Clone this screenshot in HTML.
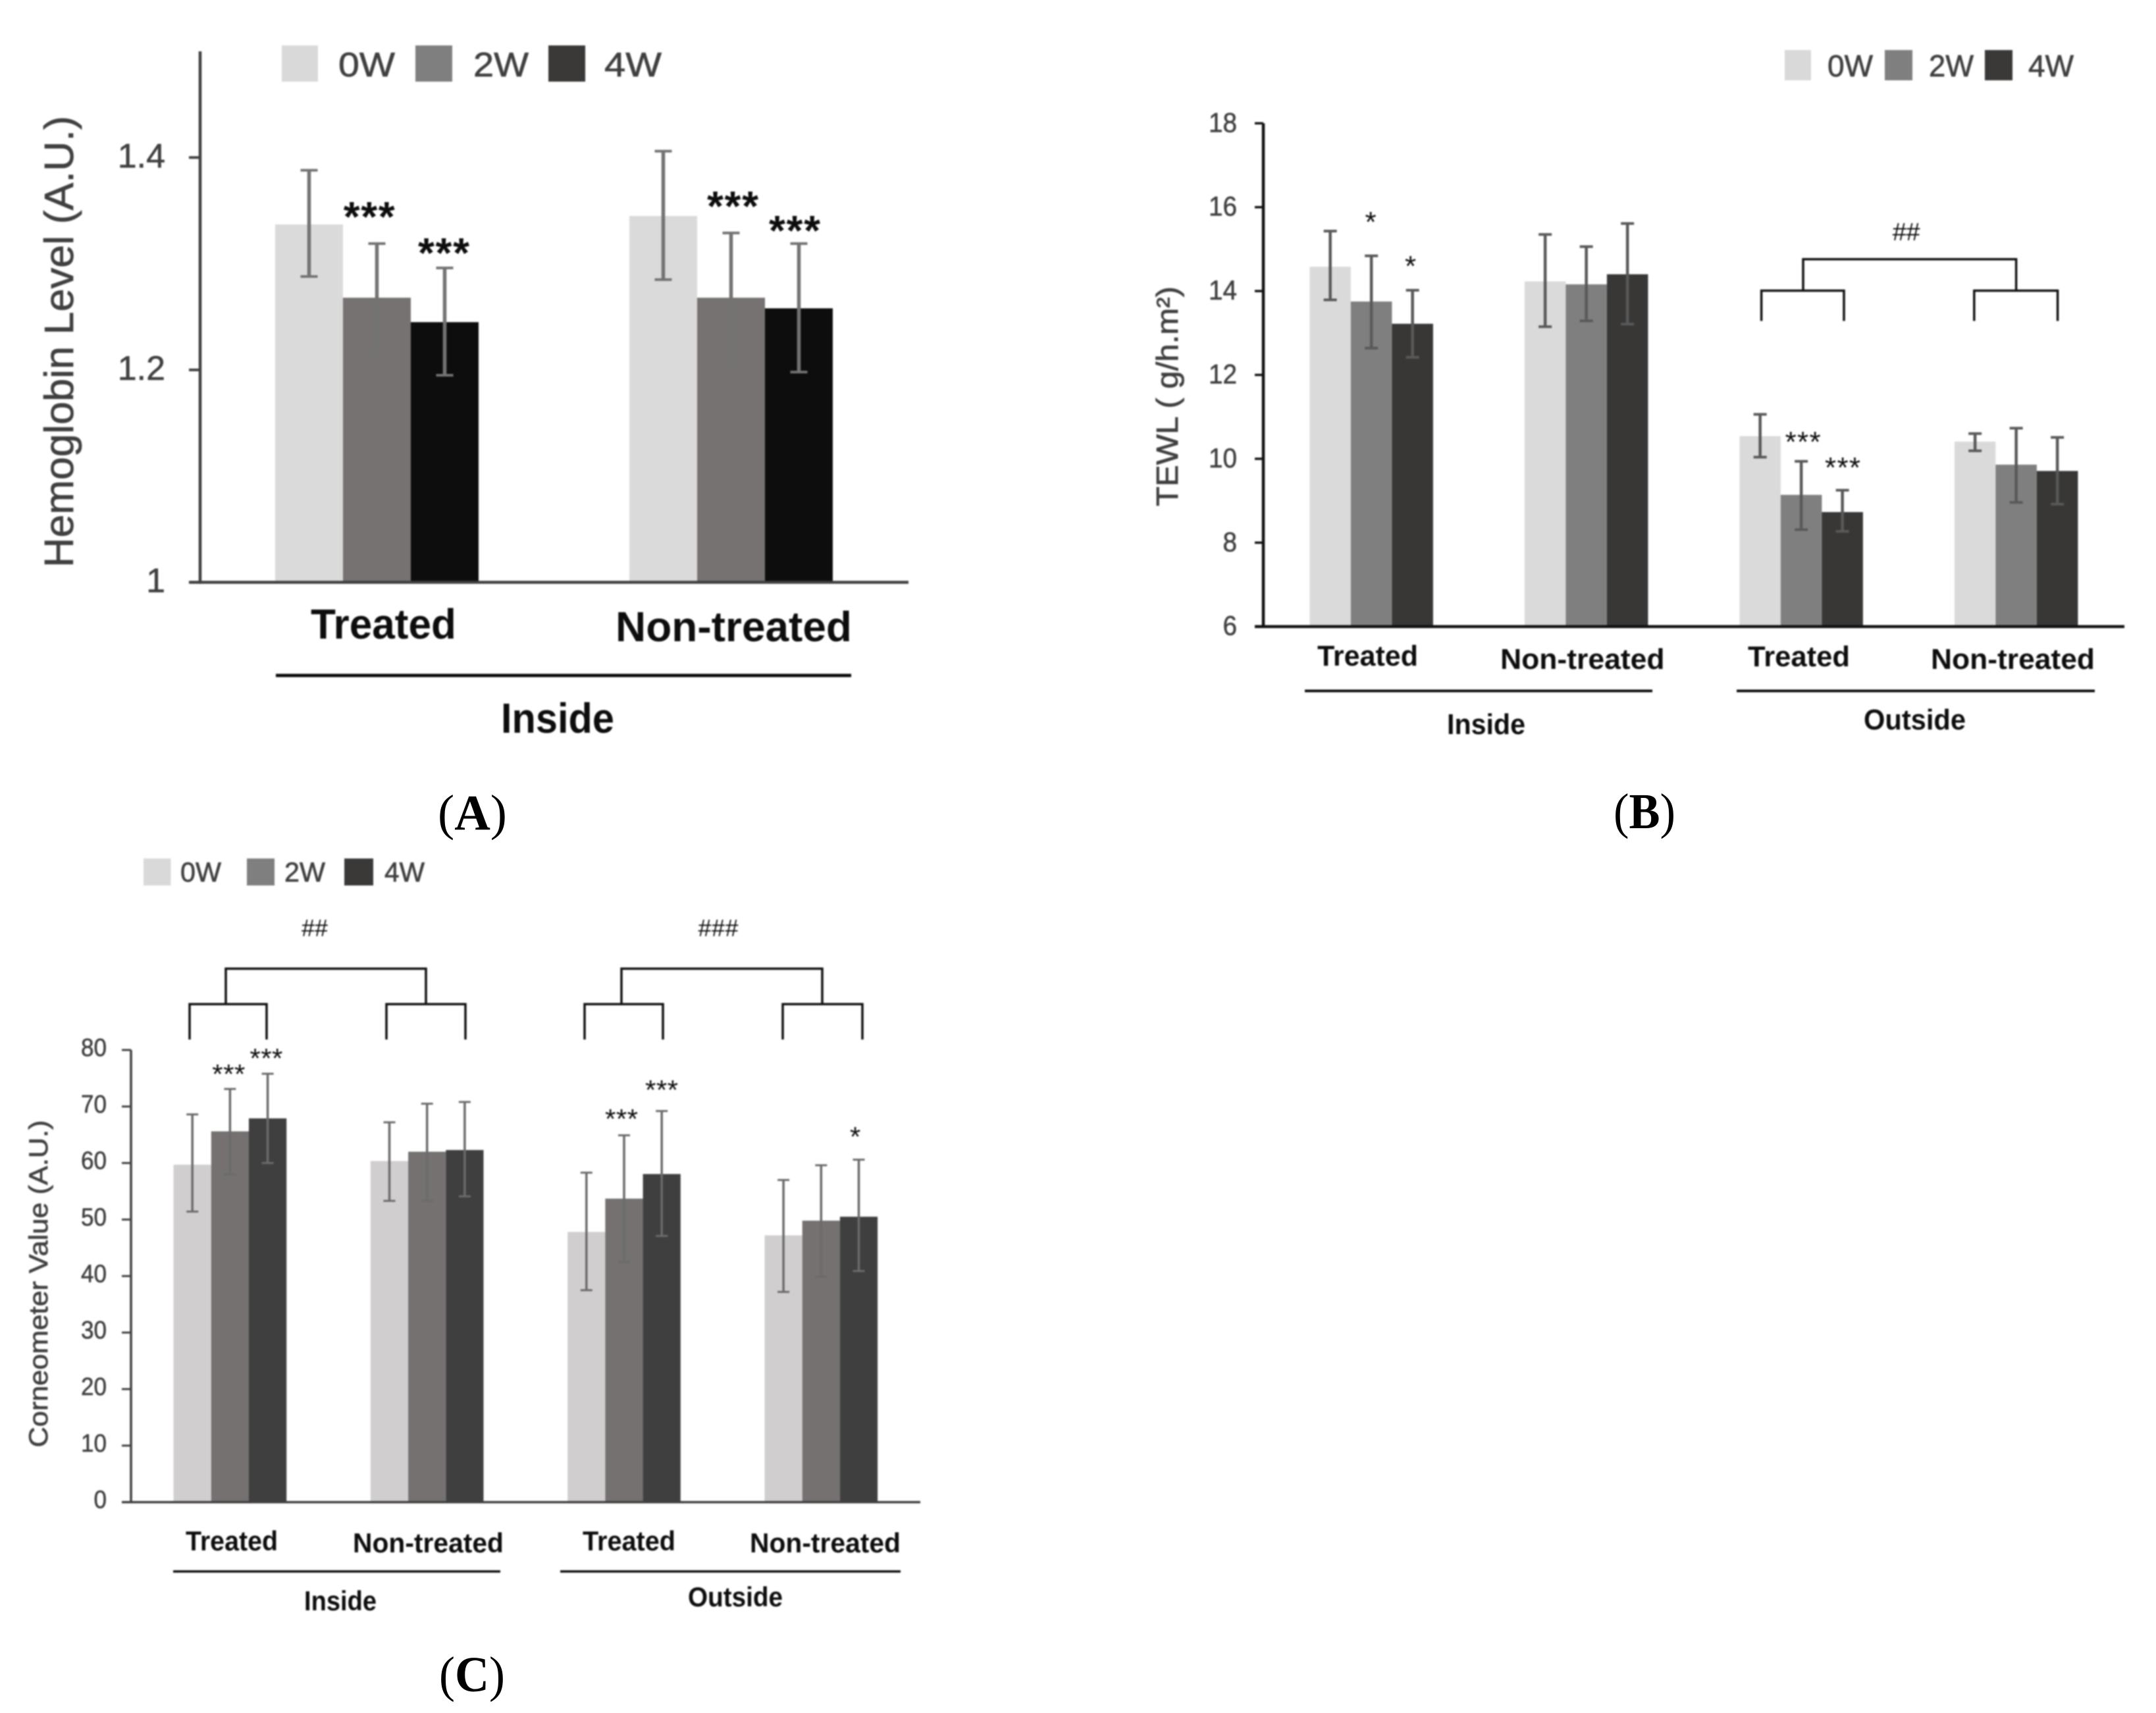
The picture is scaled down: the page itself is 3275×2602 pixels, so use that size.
<!DOCTYPE html>
<html lang="en">
<head>
<meta charset="utf-8">
<title>Hemoglobin, TEWL and Corneometer bar charts</title>
<style>
html,body{margin:0;padding:0;background:#fff;}
svg{display:block;}
text{font-family:"Liberation Sans",sans-serif;}
#chart-a,#chart-b,#chart-c{filter:blur(1px);}
.bold{font-weight:700;fill:#0d0d0d;}
.leg{fill:#404040;stroke:#404040;stroke-width:.7;}
.ttl{fill:#404040;stroke:#404040;stroke-width:.7;}
.mark{fill:#0d0d0d;}
.panel{font-family:"Liberation Serif",serif;font-weight:700;fill:#000;font-size:76px;}
.panel tspan{font-weight:400;}
.br{fill:none;stroke:#111;stroke-width:3.5;}
</style>
</head>
<body>
<svg id="figure" xmlns="http://www.w3.org/2000/svg" width="3275" height="2602" viewBox="0 0 3275 2602">
<rect x="0" y="0" width="3275" height="2602" fill="#fff"/>

<g id="chart-a">
  <g>
    <rect x="428" y="69" width="55" height="55" fill="#d9d9d9"/>
    <text class="leg" x="514" y="116" font-size="52" textLength="86" lengthAdjust="spacingAndGlyphs">0W</text>
    <rect x="631" y="69" width="56" height="55" fill="#7f7f7f"/>
    <text class="leg" x="719" y="116" font-size="52" textLength="84" lengthAdjust="spacingAndGlyphs">2W</text>
    <rect x="833" y="69" width="56" height="55" fill="#3a3938"/>
    <text class="leg" x="918" y="116" font-size="52" textLength="87" lengthAdjust="spacingAndGlyphs">4W</text>
  </g>
  <text class="ttl" transform="translate(111 519) rotate(-90)" text-anchor="middle" font-size="62" textLength="686" lengthAdjust="spacingAndGlyphs">Hemoglobin Level (A.U.)</text>
  <text class="mark" x="560.7" y="351" text-anchor="middle" font-size="64" font-weight="700" textLength="78">***</text>
  <text class="mark" x="674" y="406" text-anchor="middle" font-size="64" font-weight="700" textLength="78">***</text>
  <text class="mark" x="1113" y="335" text-anchor="middle" font-size="64" font-weight="700" textLength="78">***</text>
  <text class="mark" x="1207" y="372" text-anchor="middle" font-size="64" font-weight="700" textLength="78">***</text>
  <text class="bold" x="472" y="970" font-size="64" textLength="221" lengthAdjust="spacingAndGlyphs">Treated</text>
  <text class="bold" x="935" y="974" font-size="64" textLength="359" lengthAdjust="spacingAndGlyphs">Non-treated</text>
  <line x1="419" y1="1026" x2="1293" y2="1026" stroke="#0d0d0d" stroke-width="5"/>
  <text class="bold" x="761" y="1113" font-size="64" textLength="172" lengthAdjust="spacingAndGlyphs">Inside</text>
</g>

<g id="chart-b">
  <g>
    <rect x="2711" y="76" width="40" height="46" fill="#d9d9d9"/>
    <text class="leg" x="2776" y="116" font-size="46" textLength="69" lengthAdjust="spacingAndGlyphs">0W</text>
    <rect x="2863" y="76" width="42" height="46" fill="#7f7f7f"/>
    <text class="leg" x="2930" y="116" font-size="46" textLength="68" lengthAdjust="spacingAndGlyphs">2W</text>
    <rect x="3015" y="76" width="42" height="46" fill="#3a3938"/>
    <text class="leg" x="3081" y="116" font-size="46" textLength="69" lengthAdjust="spacingAndGlyphs">4W</text>
  </g>
  <text class="ttl" transform="translate(1789 602) rotate(-90)" text-anchor="middle" font-size="46" textLength="334" lengthAdjust="spacingAndGlyphs">TEWL ( g/h.m²)</text>
  <text class="mark" x="2082" y="352" text-anchor="middle" font-size="44">*</text>
  <text class="mark" x="2142.5" y="419" text-anchor="middle" font-size="44">*</text>
  <text class="mark" x="2738.6" y="686" text-anchor="middle" font-size="44" textLength="54">***</text>
  <text class="mark" x="2799" y="725" text-anchor="middle" font-size="44" textLength="54">***</text>
  <text class="mark" x="2895.7" y="365" text-anchor="middle" font-size="38" textLength="42">##</text>
  <path class="br" d="M2739 441.5V393.7H3062.6V441.5M2675.6 487.5V441.5H2801V487.5M2998.8 487.5V441.5H3125.6V487.5"/>
  <text class="bold" x="2001" y="1011" font-size="44" textLength="153" lengthAdjust="spacingAndGlyphs">Treated</text>
  <text class="bold" x="2279" y="1016" font-size="44" textLength="249.5" lengthAdjust="spacingAndGlyphs">Non-treated</text>
  <text class="bold" x="2655" y="1012" font-size="44" textLength="155" lengthAdjust="spacingAndGlyphs">Treated</text>
  <text class="bold" x="2933" y="1016" font-size="44" textLength="249" lengthAdjust="spacingAndGlyphs">Non-treated</text>
  <line x1="1982" y1="1049.5" x2="2510" y2="1049.5" stroke="#0d0d0d" stroke-width="4"/>
  <line x1="2638" y1="1049.5" x2="3182" y2="1049.5" stroke="#0d0d0d" stroke-width="4"/>
  <text class="bold" x="2198" y="1115" font-size="44" textLength="119" lengthAdjust="spacingAndGlyphs">Inside</text>
  <text class="bold" x="2831" y="1108" font-size="44" textLength="155" lengthAdjust="spacingAndGlyphs">Outside</text>
</g>

<g id="chart-c">
  <g>
    <rect x="218" y="1304" width="41.5" height="41" fill="#d9d9d9"/>
    <text class="leg" x="274" y="1339" font-size="42" textLength="62" lengthAdjust="spacingAndGlyphs">0W</text>
    <rect x="375" y="1304" width="42" height="41" fill="#7f7f7f"/>
    <text class="leg" x="432" y="1339" font-size="42" textLength="62" lengthAdjust="spacingAndGlyphs">2W</text>
    <rect x="523" y="1304" width="44" height="41" fill="#3a3938"/>
    <text class="leg" x="584" y="1339" font-size="42" textLength="61" lengthAdjust="spacingAndGlyphs">4W</text>
  </g>
  <text class="ttl" transform="translate(72 1950) rotate(-90)" text-anchor="middle" font-size="40" textLength="497" lengthAdjust="spacingAndGlyphs">Corneometer Value (A.U.)</text>
  <text class="mark" x="347.3" y="1646" text-anchor="middle" font-size="42" textLength="50">***</text>
  <text class="mark" x="404.4" y="1622" text-anchor="middle" font-size="42" textLength="50">***</text>
  <text class="mark" x="944" y="1714" text-anchor="middle" font-size="42" textLength="50">***</text>
  <text class="mark" x="1005" y="1670" text-anchor="middle" font-size="42" textLength="50">***</text>
  <text class="mark" x="1299" y="1741" text-anchor="middle" font-size="42">*</text>
  <text class="mark" x="478" y="1422" text-anchor="middle" font-size="36" textLength="40">##</text>
  <text class="mark" x="1091" y="1422" text-anchor="middle" font-size="36" textLength="61">###</text>
  <path class="br" d="M343 1525.3V1471.4H647V1525.3M288 1579V1525.3H405V1579M587 1579V1525.3H707V1579"/>
  <path class="br" d="M944 1525.3V1471.4H1249V1525.3M888 1579V1525.3H1007V1579M1189 1579V1525.3H1310V1579"/>
  <text class="bold" x="282" y="2355" font-size="42" textLength="140" lengthAdjust="spacingAndGlyphs">Treated</text>
  <text class="bold" x="536" y="2358" font-size="42" textLength="229" lengthAdjust="spacingAndGlyphs">Non-treated</text>
  <text class="bold" x="885" y="2355" font-size="42" textLength="141" lengthAdjust="spacingAndGlyphs">Treated</text>
  <text class="bold" x="1139" y="2358" font-size="42" textLength="229" lengthAdjust="spacingAndGlyphs">Non-treated</text>
  <line x1="263" y1="2387" x2="760" y2="2387" stroke="#0d0d0d" stroke-width="3.5"/>
  <line x1="851" y1="2387" x2="1368" y2="2387" stroke="#0d0d0d" stroke-width="3.5"/>
  <text class="bold" x="462" y="2446" font-size="42" textLength="110" lengthAdjust="spacingAndGlyphs">Inside</text>
  <text class="bold" x="1045" y="2440" font-size="42" textLength="144" lengthAdjust="spacingAndGlyphs">Outside</text>
</g>

<g>
  <text class="panel" x="665" y="1260" textLength="105" lengthAdjust="spacingAndGlyphs"><tspan>(</tspan>A<tspan>)</tspan></text>
  <text class="panel" x="2451" y="1258" textLength="94" lengthAdjust="spacingAndGlyphs"><tspan>(</tspan>B<tspan>)</tspan></text>
  <text class="panel" x="667" y="2569" textLength="100" lengthAdjust="spacingAndGlyphs"><tspan>(</tspan>C<tspan>)</tspan></text>
</g>
</svg>

<script>
// Shared series names
const seriesNames = ['0W', '2W', '4W'];

// Panel A: Hemoglobin Level (A.U.)
const aCategories = ['Treated', 'Non-treated'];
const aTickValues = [1, 1.2, 1.4];
const aTickLabels = ['1', '1.2', '1.4'];
const aMean0W = [1.337, 1.345];
const aMean2W = [1.268, 1.268];
const aMean4W = [1.245, 1.258];
const aHigh0W = [1.388, 1.406];
const aLow0W = [1.288, 1.285];
const aHigh2W = [1.319, 1.329];
const aLow2W = [1.218, 1.208];
const aHigh4W = [1.296, 1.319];
const aLow4W = [1.195, 1.198];

// Panel B: TEWL (g/h.m2)
const bCategories = ['Inside Treated', 'Inside Non-treated', 'Outside Treated', 'Outside Non-treated'];
const bTickValues = [6, 8, 10, 12, 14, 16, 18];
const bTickLabels = ['6', '8', '10', '12', '14', '16', '18'];
const bMean0W = [14.58, 14.23, 10.54, 10.41];
const bMean2W = [13.75, 14.16, 9.14, 9.86];
const bMean4W = [13.22, 14.40, 8.73, 9.71];
const bHigh0W = [15.43, 15.35, 11.06, 10.6];
const bLow0W = [13.79, 13.15, 10.04, 10.19];
const bHigh2W = [14.84, 15.06, 9.94, 10.73];
const bLow2W = [12.64, 13.29, 8.31, 8.96];
const bHigh4W = [14.02, 15.61, 9.25, 10.51];
const bLow4W = [12.42, 13.21, 8.27, 8.92];

// Panel C: Corneometer Value (A.U.)
const cCategories = ['Inside Treated', 'Inside Non-treated', 'Outside Treated', 'Outside Non-treated'];
const cTickValues = [0, 10, 20, 30, 40, 50, 60, 70, 80];
const cTickLabels = ['0', '10', '20', '30', '40', '50', '60', '70', '80'];
const cMean0W = [59.7, 60.35, 47.8, 47.2];
const cMean2W = [65.6, 62.0, 53.7, 49.8];
const cMean4W = [67.9, 62.3, 58.05, 50.5];
const cHigh0W = [68.6, 67.2, 58.3, 57];
const cLow0W = [51.4, 53.3, 37.5, 37.2];
const cHigh2W = [73.1, 70.5, 64.9, 59.6];
const cLow2W = [58, 53.3, 42.5, 39.9];
const cHigh4W = [75.8, 70.8, 69.2, 60.6];
const cLow4W = [60, 54.1, 47.1, 40.9];

const SVG_NS = 'http://www.w3.org/2000/svg';

function lineEl(x1, y1, x2, y2, color, width) {
  const el = document.createElementNS(SVG_NS, 'line');
  el.setAttribute('x1', x1);
  el.setAttribute('y1', y1);
  el.setAttribute('x2', x2);
  el.setAttribute('y2', y2);
  el.setAttribute('stroke', color);
  el.setAttribute('stroke-width', width);
  return el;
}

function drawChart(c) {
  const root = document.getElementById(c.id);
  const y = v => c.y0 + (v - c.vMin) * (c.y1 - c.y0) / (c.vMax - c.vMin);
  const x = (g, s) => c.x0 + g * c.pitch + s * c.barW;

  const marks = document.createElementNS(SVG_NS, 'g');
  
  
  root.appendChild(marks);

  c.means.forEach((vals, s) => {
    vals.forEach((v, g) => {
      const top = y(v);
      const bar = document.createElementNS(SVG_NS, 'rect');
      
      
      bar.setAttribute('x', x(g, s));
      bar.setAttribute('y', top);
      bar.setAttribute('width', c.barW);
      bar.setAttribute('height', c.y0 - top);
      bar.setAttribute('fill', c.colors[s]);
      marks.appendChild(bar);
    });
  });

  c.means.forEach((vals, s) => {
    vals.forEach((v, g) => {
      const cx = x(g, s) + c.barW / 2;
      const hi = y(c.highs[s][g]);
      const lo = y(c.lows[s][g]);
      const err = document.createElementNS(SVG_NS, 'g');
      
      
      err.appendChild(lineEl(cx, hi, cx, lo, c.errColor, c.errW));
      err.appendChild(lineEl(cx - c.capW, hi, cx + c.capW, hi, c.errColor, c.capS));
      err.appendChild(lineEl(cx - c.capW, lo, cx + c.capW, lo, c.errColor, c.capS));
      marks.appendChild(err);
    });
  });

  const axisY = document.createElementNS(SVG_NS, 'g');
  
  
  root.appendChild(axisY);
  axisY.appendChild(lineEl(c.axisX, y(c.vMax), c.axisX, c.y0 + c.axisW / 2, c.axisColor, c.axisW));

  c.tickValues.forEach((t, i) => {
    const ty = y(t);
    const tick = lineEl(c.axisX - c.tickLen, ty, c.axisX, ty, c.axisColor, c.tickW);
    
    
    axisY.appendChild(tick);
    const label = document.createElementNS(SVG_NS, 'text');
    
    
    label.setAttribute('x', c.labelX);
    label.setAttribute('y', ty + c.labelDy);
    label.setAttribute('text-anchor', 'end');
    label.setAttribute('font-size', c.labelFs);
    label.setAttribute('fill', c.labelColor);
    label.setAttribute('stroke', c.labelColor);
    label.setAttribute('stroke-width', 0.6);
    if (c.digitW) {
      label.setAttribute('textLength', c.digitW * c.tickLabels[i].length);
      label.setAttribute('lengthAdjust', 'spacingAndGlyphs');
    }
    label.textContent = c.tickLabels[i];
    axisY.appendChild(label);
  });

  const axisX = lineEl(c.axisX - c.tickLen, c.y0, c.xEnd, c.y0, c.axisColor, c.axisW);
  
  
  root.appendChild(axisX);
}

drawChart({
  id: 'chart-a', categories: aCategories,
  means: [aMean0W, aMean2W, aMean4W], highs: [aHigh0W, aHigh2W, aHigh4W], lows: [aLow0W, aLow2W, aLow4W],
  tickValues: aTickValues, tickLabels: aTickLabels,
  vMin: 1, vMax: 1.5, y0: 884.5, y1: 78,
  x0: 418, pitch: 538, barW: 103,
  colors: ['#dadada', '#767271', '#0d0d0d'], errColor: '#737373', errW: 5.5, capW: 13, capS: 4,
  axisX: 304, xEnd: 1380, tickLen: 17, axisColor: '#404040', axisW: 4.5, tickW: 4,
  labelX: 251, labelDy: 15, labelFs: 52, labelColor: '#404040', digitW: 0
});

drawChart({
  id: 'chart-b', categories: bCategories,
  means: [bMean0W, bMean2W, bMean4W], highs: [bHigh0W, bHigh2W, bHigh4W], lows: [bLow0W, bLow2W, bLow4W],
  tickValues: bTickValues, tickLabels: bTickLabels,
  vMin: 6, vMax: 18, y0: 951.7, y1: 187.3,
  x0: 1989.4, pitch: 326.5, barW: 62.5,
  colors: ['#dadada', '#7f7f7f', '#383736'], errColor: '#595959', errW: 4.5, capW: 10, capS: 4,
  axisX: 1919, xEnd: 3227, tickLen: 13, axisColor: '#111111', axisW: 4.5, tickW: 3.5,
  labelX: 1879, labelDy: 13, labelFs: 42, labelColor: '#404040', digitW: 21.5
});

drawChart({
  id: 'chart-c', categories: cCategories,
  means: [cMean0W, cMean2W, cMean4W], highs: [cHigh0W, cHigh2W, cHigh4W], lows: [cLow0W, cLow2W, cLow4W],
  tickValues: cTickValues, tickLabels: cTickLabels,
  vMin: 0, vMax: 80, y0: 2281.7, y1: 1594.9,
  x0: 263.6, pitch: 299.3, barW: 57.2,
  colors: ['#d0cecf', '#747170', '#3f3f3f'], errColor: '#6b6b6b', errW: 3.5, capW: 9, capS: 3,
  axisX: 199, xEnd: 1398, tickLen: 14, axisColor: '#404040', axisW: 3.5, tickW: 3,
  labelX: 162, labelDy: 9, labelFs: 38, labelColor: '#404040', digitW: 19.5
});
</script>
</body>
</html>
